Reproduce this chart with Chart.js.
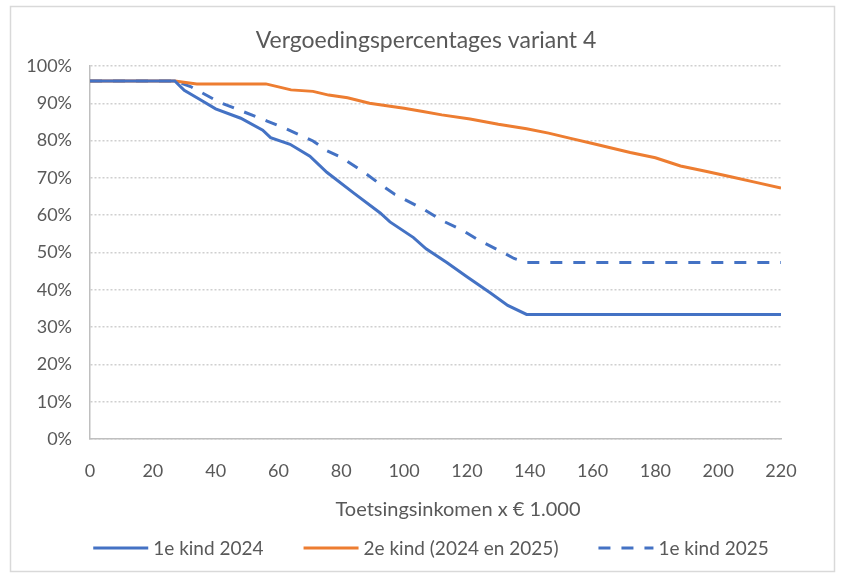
<!DOCTYPE html>
<html>
<head>
<meta charset="utf-8">
<script src="https://cdn.jsdelivr.net/npm/chart.js@4.4.1/dist/chart.umd.min.js"></script>
<style>
    html, body { margin: 0; padding: 0; background: #ffffff; }
    #wrap { position: relative; width: 843px; height: 576px; }
</style>
</head>
<body>
<div id="wrap"><canvas id="chart" width="843" height="576"></canvas></div>
<script>
/**
 * Vergoedingspercentages variant 4
 * 값은 그림에서 눈으로 읽은 추정치
 */

// 1e kind 2024 (doorgetrokken blauw)
const income1e2024 = [0, 27, 30, 35, 40, 48, 55, 57.5, 63.7, 70, 75.4, 83.9, 92.4, 95.5, 103, 107, 113.6, 120, 127.4, 133, 139, 220];
const pct1e2024 = [96, 96, 93.5, 91, 88.5, 86, 82.8, 80.8, 79, 75.8, 71.5, 66, 60.6, 58.2, 54, 51, 47.3, 43.5, 39.2, 35.8, 33.4, 33.4];

// 2e kind (2024 en 2025) (oranje)
const income2e = [0, 27, 34, 45, 56, 60, 64, 71, 76, 82, 89, 95, 100, 106, 112, 121, 130, 139, 146, 153, 160, 172, 180, 188, 196, 204, 212, 220];
const pct2e = [96, 96, 95.2, 95.2, 95.2, 94.4, 93.6, 93.2, 92.2, 91.5, 90.0, 89.3, 88.7, 87.8, 86.9, 85.8, 84.4, 83.2, 82.0, 80.6, 79.2, 76.8, 75.4, 73.2, 71.8, 70.3, 68.8, 67.3];

// 1e kind 2025 (gestreept blauw)
const income1e2025 = [0, 27, 32, 41.4, 47.8, 56.2, 62.6, 71, 75.4, 80, 88.1, 92.4, 97, 106.2, 112, 118.9, 124, 130.6, 135, 139, 220];
const pct1e2025 = [96, 96, 94.5, 90.2, 88.1, 85.3, 83.1, 79.9, 77.3, 75.5, 71, 68.3, 65.6, 61.6, 58.6, 55.8, 53.2, 50.4, 48.4, 47.3, 47.3];

const seriesLabels = ['1e kind 2024', '2e kind (2024 en 2025)', '1e kind 2025'];
const xTicks = [0, 20, 40, 60, 80, 100, 120, 140, 160, 180, 200, 220];
const yTicks = [0, 10, 20, 30, 40, 50, 60, 70, 80, 90, 100];
const chartTitle = 'Vergoedingspercentages variant 4';
const xAxisTitle = 'Toetsingsinkomen x € 1.000';

const COLORS = {
    blue: '#4472c4',
    orange: '#ed7d31',
    text: '#595959',
    grid: '#cfcfcf',
    axis: '#bfbfbf',
    frame: '#d9d9d9',
};
const FONT = 'Lato, "Liberation Sans", Arial, sans-serif';

/**
 * x/y 배열을 Chart.js 포인트로 변환
 */
function toPoints(xs, ys) {
    return xs.map((x, i) => ({ x: x, y: ys[i] }));
}

// 배경 + 바깥 테두리
const framePlugin = {
    id: 'frame',
    beforeDraw(chart) {
        const ctx = chart.ctx;
        ctx.save();
        ctx.fillStyle = '#ffffff';
        ctx.fillRect(0, 0, chart.width, chart.height);
        ctx.strokeStyle = COLORS.frame;
        ctx.lineWidth = 1.5;
        ctx.strokeRect(10.5, 6.5, 824, 565);
        ctx.restore();
    },
};

// 제목, x축 제목, 범례 (Excel 배치에 맞춰 직접 그림)
const textPlugin = {
    id: 'texts',
    afterDraw(chart) {
        const ctx = chart.ctx;
        const area = chart.chartArea;
        ctx.save();
        ctx.fillStyle = COLORS.text;
        ctx.textBaseline = 'middle';

        // 제목
        ctx.textAlign = 'center';
        ctx.font = '23px ' + FONT;
        ctx.fillText(chartTitle, 426, area.top - 25);

        // x축 제목
        ctx.font = '20px ' + FONT;
        ctx.fillText(xAxisTitle, 458, area.bottom + 71);

        // 범례
        ctx.font = '19px ' + FONT;
        ctx.textAlign = 'left';
        const lineW = 55;
        const gapText = 5;
        const gapItem = 40;
        const items = chart.data.datasets.map(ds => ({
            ds: ds,
            w: lineW + gapText + ctx.measureText(ds.label).width,
        }));
        const total = items.reduce((s, it) => s + it.w, 0) + gapItem * (items.length - 1);
        let x = 431 - total / 2;
        const y = area.bottom + 109;
        items.forEach(it => {
            ctx.beginPath();
            ctx.strokeStyle = it.ds.borderColor;
            ctx.lineWidth = it.ds.borderWidth;
            ctx.setLineDash(it.ds.borderDash || []);
            ctx.moveTo(x, y);
            ctx.lineTo(x + lineW, y);
            ctx.stroke();
            ctx.setLineDash([]);
            ctx.fillText(it.ds.label, x + lineW + gapText, y + 1);
            x += it.w + gapItem;
        });
        ctx.restore();
    },
};

const ctx = document.getElementById('chart').getContext('2d');

new Chart(ctx, {
    type: 'line',
    data: {
        datasets: [
            {
                label: seriesLabels[0],
                data: toPoints(income1e2024, pct1e2024),
                borderColor: COLORS.blue,
                borderWidth: 3,
                pointRadius: 0,
                tension: 0,
            },
            {
                label: seriesLabels[1],
                data: toPoints(income2e, pct2e),
                borderColor: COLORS.orange,
                borderWidth: 3,
                pointRadius: 0,
                tension: 0,
            },
            {
                label: seriesLabels[2],
                data: toPoints(income1e2025, pct1e2025),
                borderColor: COLORS.blue,
                borderWidth: 3,
                borderDash: [12, 11],
                pointRadius: 0,
                tension: 0,
            },
        ],
    },
    options: {
        responsive: false,
        animation: false,
        layout: {
            padding: { left: 0, right: 62, top: 66, bottom: 97 },
        },
        plugins: {
            title: { display: false },
            legend: { display: false },
            tooltip: { enabled: false },
        },
        scales: {
            x: {
                type: 'linear',
                min: 0,
                max: 220,
                afterBuildTicks: (scale) => {
                    scale.ticks = xTicks.map(v => ({ value: v }));
                },
                afterFit: (scale) => {
                    scale.height = 40;
                },
                ticks: {
                    color: COLORS.text,
                    font: { family: FONT, size: 18 },
                    padding: 13,
                    maxRotation: 0,
                },
                grid: { display: false },
                border: { display: true, color: COLORS.axis, width: 1.5 },
            },
            y: {
                min: 0,
                max: 100,
                afterBuildTicks: (scale) => {
                    scale.ticks = yTicks.map(v => ({ value: v }));
                },
                afterFit: (scale) => {
                    scale.width = 90;
                },
                ticks: {
                    color: COLORS.text,
                    font: { family: FONT, size: 18 },
                    padding: 18,
                    callback: (value) => value + '%',
                },
                grid: {
                    color: COLORS.grid,
                    lineWidth: 1.5,
                    drawTicks: false,
                },
                border: { display: true, color: COLORS.axis, width: 1.5, dash: [2, 2] },
            },
        },
    },
    plugins: [framePlugin, textPlugin],
});
</script>
</body>
</html>
